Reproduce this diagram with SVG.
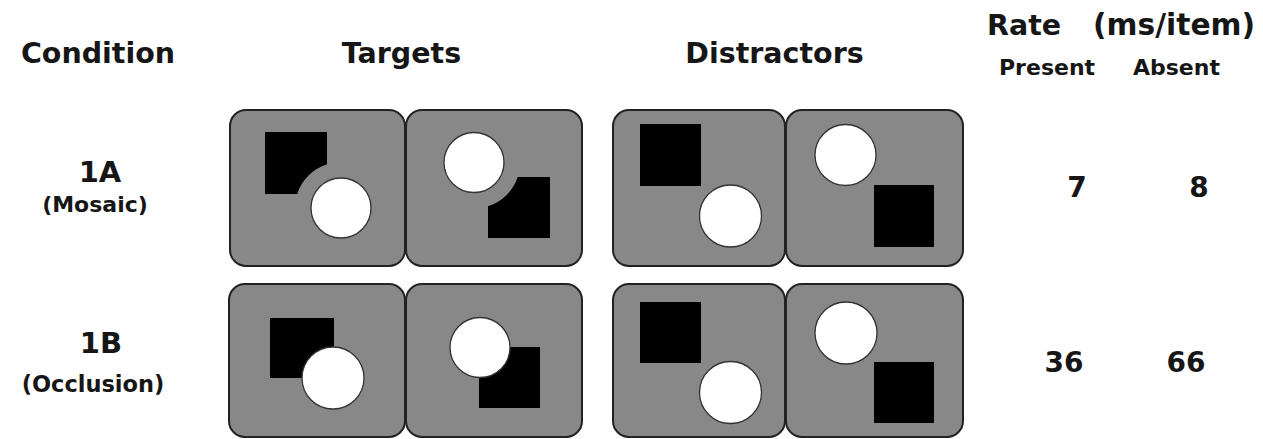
<svg xmlns="http://www.w3.org/2000/svg" width="1263" height="439" viewBox="0 0 1263 439">
<style>
  text { font-family: "DejaVu Sans", "Liberation Sans", sans-serif; font-weight: bold; fill: #161616; }
  .hdr { font-size: 28.5px; }
  .sub { font-size: 22px; }
  .cond { font-size: 29px; }
  .num { font-size: 28px; }
  .panel { fill: #888888; stroke: #222222; stroke-width: 2; }
  .sq { fill: #000000; }
  .circ { fill: #ffffff; stroke: #333333; stroke-width: 1.3; }
</style>
<rect width="1263" height="439" fill="#ffffff"/>

<g id="headers">
  <text class="hdr" x="98" y="63" text-anchor="middle">Condition</text>
  <text class="hdr" x="401.5" y="63" text-anchor="middle">Targets</text>
  <text class="hdr" x="774.5" y="63" text-anchor="middle">Distractors</text>
  <text class="hdr" y="35"><tspan x="987">Rate</tspan><tspan x="1093" style="font-size:29.7px">(ms/item)</tspan></text>
  <text class="sub" x="999" y="75">Present</text>
  <text class="sub" x="1133" y="75">Absent</text>
</g>

<g id="cond-1A">
  <text class="cond" x="100" y="182" text-anchor="middle">1A</text>
  <text class="sub" x="95" y="212" text-anchor="middle">(Mosaic)</text>
</g>
<g id="cond-1B">
  <text class="cond" x="101" y="353" text-anchor="middle">1B</text>
  <text class="sub" x="93" y="392" text-anchor="middle" style="font-size:22.5px">(Occlusion)</text>
</g>

<!-- Row 1A -->
<g id="panel-1A-target-1">
  <rect class="panel" x="230" y="110" width="175" height="156" rx="16"/>
  <path class="sq" d="M265,132 H327 V164.2 A46,46 0 0 0 297.2,194 H265 Z"/>
  <circle class="circ" cx="341" cy="208" r="30"/>
</g>
<g id="panel-1A-target-2">
  <rect class="panel" x="406" y="110" width="176" height="156" rx="16"/>
  <circle class="circ" cx="474" cy="162.5" r="30"/>
  <path class="sq" d="M517.7,177 H550 V238 H488 V206.3 A46,46 0 0 0 517.7,177 Z"/>
</g>
<g id="panel-1A-distractor-1">
  <rect class="panel" x="613" y="110" width="172" height="156" rx="16"/>
  <rect class="sq" x="640" y="124" width="61" height="62"/>
  <circle class="circ" cx="730.5" cy="216" r="31"/>
</g>
<g id="panel-1A-distractor-2">
  <rect class="panel" x="786" y="110" width="177" height="156" rx="16"/>
  <circle class="circ" cx="845.5" cy="155" r="30.5"/>
  <rect class="sq" x="874" y="185" width="60" height="62"/>
</g>

<!-- Row 1B -->
<g id="panel-1B-target-1">
  <rect class="panel" x="229" y="284" width="176" height="153" rx="16"/>
  <rect class="sq" x="270" y="318" width="64" height="60"/>
  <circle class="circ" cx="333" cy="378" r="31"/>
</g>
<g id="panel-1B-target-2">
  <rect class="panel" x="406" y="284" width="176" height="153" rx="16"/>
  <rect class="sq" x="479" y="347" width="61" height="61"/>
  <circle class="circ" cx="480" cy="347.5" r="30"/>
</g>
<g id="panel-1B-distractor-1">
  <rect class="panel" x="613" y="284" width="172" height="153" rx="16"/>
  <rect class="sq" x="640" y="302" width="61" height="61"/>
  <circle class="circ" cx="730.5" cy="392.5" r="31"/>
</g>
<g id="panel-1B-distractor-2">
  <rect class="panel" x="786" y="284" width="177" height="153" rx="16"/>
  <circle class="circ" cx="846" cy="333" r="31"/>
  <rect class="sq" x="874" y="362" width="60" height="61"/>
</g>

<g id="rates">
  <text class="num" x="1077" y="197" text-anchor="middle">7</text>
  <text class="num" x="1199" y="197" text-anchor="middle">8</text>
  <text class="num" x="1064" y="372" text-anchor="middle">36</text>
  <text class="num" x="1186" y="372" text-anchor="middle">66</text>
</g>
</svg>
